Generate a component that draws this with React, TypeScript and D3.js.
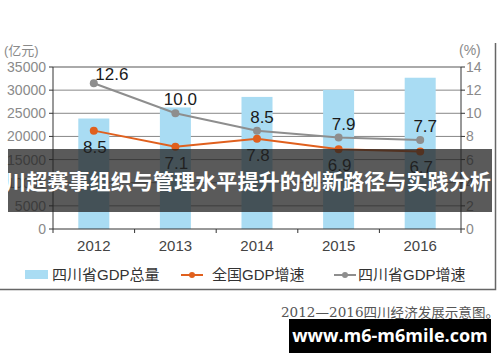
import React, { useEffect, useRef } from "react";
import * as d3 from "d3";

// data
const years = ["2012", "2013", "2014", "2015", "2016"];
const gdpTotal = [23873, 26261, 28537, 30053, 32681];
const nationalGrowth = [8.5, 7.1, 7.8, 6.9, 6.7];
const sichuanGrowth = [12.6, 10.0, 8.5, 7.9, 7.7];
const leftTicks = [0, 5000, 10000, 15000, 20000, 25000, 30000, 35000];
const rightTicks = [0, 2, 4, 6, 8, 10, 12, 14];
const legendLabels = ["四川省GDP总量", "全国GDP增速", "四川省GDP增速"];
const bannerText = "川超赛事组织与管理水平提升的创新路径与实践分析";
const captionText = "2012—2016四川经济发展示意图。";
const siteText = "www.m6-m6mile.com";

const BLUE = "#a9dcf3";
const ORANGE = "#e0601e";
const GREY = "#8e8e8e";

function App() {
  const ref = useRef<SVGSVGElement>(null);

  useEffect(() => {
    const svg = d3.select(ref.current);
    svg.selectAll("*").remove();

    const left = 53, right = 461, top = 67, bottom = 229;
    const font = "'Liberation Sans', Arial, 'Noto Sans CJK SC', sans-serif";

    svg.append("rect").attr("width", 500).attr("height", 362).attr("fill", "#fff");

    var x = d3.scaleBand().domain(years).range([left, right]).paddingInner(0.62).paddingOuter(0.31);
    var step = x.step();
    var cx = (d: string) => (x(d) as number) + x.bandwidth() / 2;
    var yL = d3.scaleLinear().domain([0, 35000]).range([bottom, top]);
    var yR = d3.scaleLinear().domain([0, 14]).range([bottom, top]);

    // gridlines
    svg.append("g")
      .selectAll("line")
      .data(leftTicks.slice(1))
      .join("line")
      .attr("x1", left).attr("x2", right)
      .attr("y1", (d) => yL(d)).attr("y2", (d) => yL(d))
      .attr("stroke", (d) => (d === 35000 ? "#aaa" : "#888"))
      .attr("stroke-width", (d) => (d === 35000 ? 2 : 1));

    // bars
    svg.append("g")
      .selectAll("rect")
      .data(years)
      .join("rect")
      .attr("x", (d) => x(d) as number)
      .attr("y", (d, i) => yL(gdpTotal[i]))
      .attr("width", x.bandwidth())
      .attr("height", (d, i) => bottom - yL(gdpTotal[i]))
      .attr("fill", BLUE);

    // axes
    var axisG = svg.append("g").attr("stroke", "#333").attr("stroke-width", 1);
    axisG.append("line").attr("x1", left).attr("x2", left).attr("y1", top).attr("y2", bottom);
    axisG.append("line").attr("x1", right).attr("x2", right).attr("y1", top).attr("y2", bottom);
    axisG.append("line").attr("x1", left).attr("x2", right).attr("y1", bottom).attr("y2", bottom);
    leftTicks.forEach((t) => {
      axisG.append("line").attr("x1", left - 4).attr("x2", left).attr("y1", yL(t)).attr("y2", yL(t));
    });
    rightTicks.forEach((t) => {
      axisG.append("line").attr("x1", right).attr("x2", right + 4).attr("y1", yR(t)).attr("y2", yR(t));
    });
    // category boundary ticks
    d3.range(years.length + 1).forEach((i) => {
      var xx = left + i * step;
      axisG.append("line").attr("x1", xx).attr("x2", xx).attr("y1", bottom).attr("y2", bottom + 4);
    });

    svg.append("g")
      .selectAll("text")
      .data(leftTicks)
      .join("text")
      .attr("x", left - 7)
      .attr("y", (d) => yL(d) + 5)
      .attr("text-anchor", "end")
      .attr("font-family", font)
      .attr("font-size", 14)
      .attr("fill", "#8a8a8a")
      .text((d) => d);

    svg.append("g")
      .selectAll("text")
      .data(rightTicks)
      .join("text")
      .attr("x", right + 5)
      .attr("y", (d) => yR(d) + 5)
      .attr("font-family", font)
      .attr("font-size", 14)
      .attr("fill", "#8a8a8a")
      .text((d) => d);

    svg.append("text").attr("x", 4).attr("y", 55).attr("font-family", font)
      .attr("font-size", 13).attr("fill", "#8a8a8a").text("(亿元)");
    svg.append("text").attr("x", 459).attr("y", 55).attr("font-family", font)
      .attr("font-size", 14).attr("fill", "#8a8a8a").text("(%)");

    svg.append("g")
      .selectAll("text")
      .data(years)
      .join("text")
      .attr("x", (d) => cx(d))
      .attr("y", bottom + 22)
      .attr("text-anchor", "middle")
      .attr("font-family", font)
      .attr("font-size", 15)
      .attr("fill", "#444")
      .text((d) => d);

    // lines
    var line = d3.line<number>().x((d, i) => cx(years[i])).y((d) => yR(d));
    [
      { values: sichuanGrowth, color: GREY },
      { values: nationalGrowth, color: ORANGE },
    ].forEach((s) => {
      svg.append("path").attr("d", line(s.values)).attr("fill", "none")
        .attr("stroke", s.color).attr("stroke-width", 2);
      svg.append("g").selectAll("circle").data(s.values).join("circle")
        .attr("cx", (d, i) => cx(years[i])).attr("cy", (d) => yR(d))
        .attr("r", 4).attr("fill", s.color);
    });

    // value labels
    svg.append("g")
      .selectAll("text")
      .data(sichuanGrowth)
      .join("text")
      .attr("x", (d, i) => cx(years[i]) + (i === 0 ? 18 : 5))
      .attr("y", (d, i) => yR(d) - (i === 0 ? 3 : 8))
      .attr("text-anchor", "middle")
      .attr("font-family", font)
      .attr("font-size", 17)
      .attr("fill", "#1a1a1a")
      .text((d) => d.toFixed(1));

    svg.append("g")
      .selectAll("text")
      .data(nationalGrowth)
      .join("text")
      .attr("x", (d, i) => cx(years[i]) + 1)
      .attr("y", (d) => yR(d) + 22)
      .attr("text-anchor", "middle")
      .attr("font-family", font)
      .attr("font-size", 17)
      .attr("fill", "#1a1a1a")
      .text((d) => d.toFixed(1));

    // legend
    var lg = svg.append("g").attr("font-family", font).attr("font-size", 15).attr("fill", "#333");
    lg.append("rect").attr("x", 25).attr("y", 270).attr("width", 23).attr("height", 9).attr("fill", BLUE);
    lg.append("text").attr("x", 52).attr("y", 280).text(legendLabels[0]);
    [
      { x0: 181, color: ORANGE, label: legendLabels[1], tx: 212 },
      { x0: 334, color: GREY, label: legendLabels[2], tx: 358 },
    ].forEach((l) => {
      lg.append("line").attr("x1", l.x0).attr("x2", l.x0 + 22).attr("y1", 275).attr("y2", 275)
        .attr("stroke", l.color).attr("stroke-width", 2);
      lg.append("circle").attr("cx", l.x0 + 11).attr("cy", 275).attr("r", 3).attr("fill", l.color);
      lg.append("text").attr("x", l.tx).attr("y", 280).text(l.label);
    });

    // frame
    svg.append("path").attr("d", "M0,289.5H495.5V43").attr("fill", "none")
      .attr("stroke", "#666").attr("stroke-width", 1.5);

    // banner overlay
    svg.append("rect").attr("x", 8).attr("y", 149).attr("width", 484).attr("height", 63)
      .attr("fill", "rgba(35,35,35,0.75)");
    svg.append("text").attr("x", 248).attr("y", 189).attr("text-anchor", "middle")
      .attr("font-family", "'Noto Sans CJK SC', sans-serif").attr("font-weight", "bold")
      .attr("font-size", 21).attr("fill", "#fff")
      .attr("textLength", 486).attr("lengthAdjust", "spacingAndGlyphs")
      .text(bannerText);

    // caption
    svg.append("text").attr("x", 499).attr("y", 317).attr("text-anchor", "end")
      .attr("font-family", "'DejaVu Serif', 'Noto Sans CJK SC', serif").attr("font-size", 13)
      .attr("fill", "#555").attr("textLength", 218).attr("lengthAdjust", "spacingAndGlyphs")
      .text(captionText);

    svg.append("rect").attr("x", 289).attr("y", 319).attr("width", 202).attr("height", 34).attr("fill", "#000");
    svg.append("text").attr("x", 390).attr("y", 342).attr("text-anchor", "middle")
      .attr("font-family", "'Open Sans', 'DejaVu Sans', sans-serif").attr("font-weight", "bold")
      .attr("font-size", 18).attr("fill", "#fff").text(siteText);
  }, []);

  return (
    <svg ref={ref} width={500} height={362} style={{ position: "absolute", left: 0, top: 0, display: "block" }} />
  );
}

export default App;
